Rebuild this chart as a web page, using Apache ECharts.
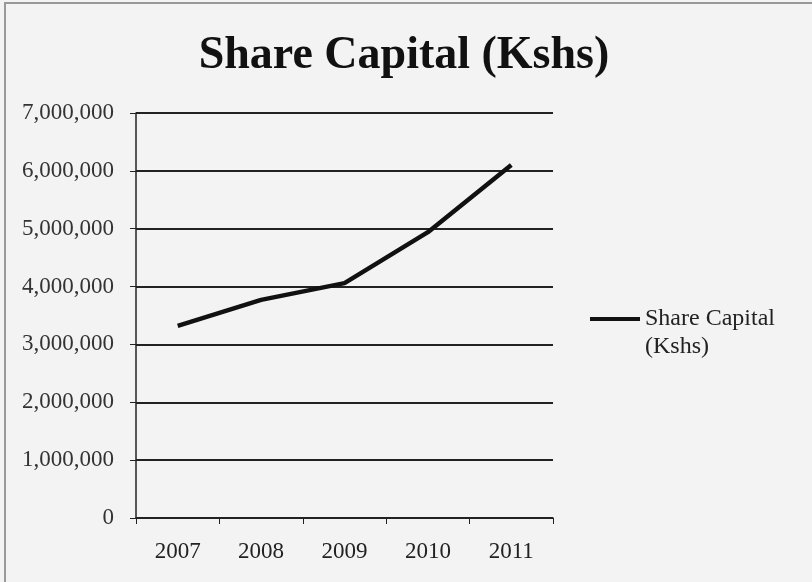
<!DOCTYPE html>
<html><head><meta charset="utf-8">
<script src="https://cdn.jsdelivr.net/npm/echarts@6/dist/echarts.min.js"></script>
<style>html,body{margin:0;padding:0;background:#f3f3f3}#c{width:812px;height:582px}</style>
</head><body><div id="c"></div>
<script>
const categories = ['2007','2008','2009','2010','2011'];
const shareCapital = [3320000, 3770000, 4060000, 4940000, 6100000];
const seriesName = 'Share Capital (Kshs)';
const yMin = 0, yMax = 7000000, yStep = 1000000;

const serif = '"Liberation Serif","DejaVu Serif",serif';
const chart = echarts.init(document.getElementById('c'));
chart.setOption({
  backgroundColor: '#f3f3f3',
  animation: false,
  title: {
    text: 'Share Capital (Kshs)',
    left: 399, textAlign: 'center', top: 28,
    textStyle: { fontFamily: serif, fontSize: 46, fontWeight: 'bold', color: '#111' }
  },
  graphic: [{
    type: 'rect', shape: { x: 5, y: 3, width: 830, height: 600 },
    style: { fill: 'none', stroke: '#999', lineWidth: 2 }, silent: true
  }],
  legend: {
    left: 585, top: 272,
    icon: 'rect', itemWidth: 50, itemHeight: 4, itemGap: 3,
    data: [seriesName],
    formatter: () => ' \nShare Capital\n(Kshs)',
    textStyle: { fontFamily: serif, fontSize: 24, color: '#222', lineHeight: 28 }
  },
  grid: { left: 136, right: 259, top: 113, bottom: 64 },
  xAxis: {
    type: 'category', data: categories, boundaryGap: true,
    axisLine: { lineStyle: { color: '#222', width: 1.5 } },
    axisTick: { show: true, length: 6, inside: false, lineStyle: { color: '#222' } },
    axisLabel: { fontFamily: serif, fontSize: 23, color: '#222', margin: 22 }
  },
  yAxis: {
    type: 'value', min: yMin, max: yMax, interval: yStep,
    axisLine: { show: true, lineStyle: { color: '#222', width: 1.5 } },
    axisTick: { show: true, length: 6, lineStyle: { color: '#222' } },
    splitLine: { lineStyle: { color: '#222', width: 1.8 } },
    axisLabel: {
      fontFamily: serif, fontSize: 23, color: '#333', margin: 22,
      formatter: v => v === 0 ? '0' : v.toLocaleString('en-US')
    }
  },
  series: [{
    name: seriesName, type: 'line', data: shareCapital,
    symbol: 'none', lineStyle: { color: '#111', width: 4.5 }, itemStyle: { color: '#111' }
  }]
});
</script></body></html>
